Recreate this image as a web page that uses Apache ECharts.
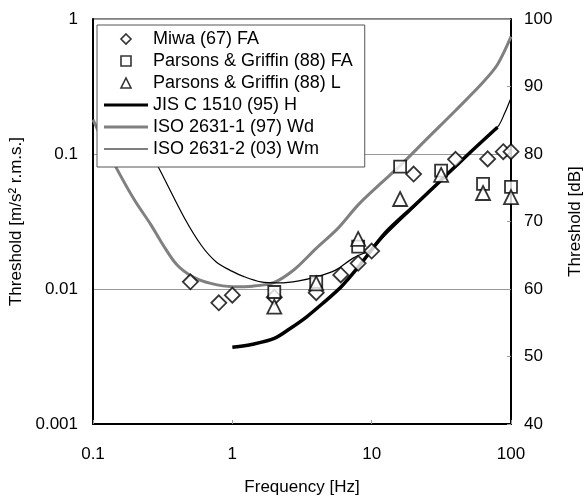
<!DOCTYPE html>
<html>
<head>
<meta charset="utf-8">
<script src="https://cdn.jsdelivr.net/npm/echarts@6/dist/echarts.min.js"></script>
<style>
html,body{margin:0;padding:0;background:#fff;}
#chart{width:584px;height:497px;}
</style>
</head>
<body>
<div id="chart"></div>
<script>
// ---- data (frequency Hz, threshold m/s^2 r.m.s.) ----
const miwaFA = [[0.5,0.0113],[0.8,0.0079],[1,0.009],[2,0.0087],[4,0.0094],[6,0.0127],[8,0.0155],[10,0.0191],[20,0.071],[40,0.0914],[68,0.092],[88,0.104],[100,0.104]];
const pgFA = [[2,0.0095],[4,0.0113],[8,0.0206],[16,0.0805],[31.5,0.0752],[63,0.060],[100,0.057]];
const pgL = [[2,0.0074],[4,0.011],[8,0.0235],[16,0.0464],[31.5,0.070],[63,0.0514],[100,0.048]];
const jisH = [[1,0.0037],[1.4,0.0039],[2,0.0043],[2.6,0.0051],[3.4,0.0062],[4.5,0.0079],[6,0.0103],[8,0.0145],[12.5,0.026],[20,0.041],[31.5,0.064],[50,0.101],[80,0.158]];
const isoWd = [[0.1,0.18],[0.12,0.12],[0.15,0.076],[0.2,0.045],[0.26,0.03],[0.32,0.021],[0.4,0.0151],[0.52,0.0123],[0.7,0.011],[1,0.0104],[1.4,0.0105],[2,0.0112],[2.8,0.014],[4,0.02],[5.7,0.028],[8,0.042],[11.5,0.06],[16,0.082],[25,0.13],[40,0.21],[63,0.34],[80,0.46],[100,0.74]];
const isoWm = [[0.13,0.42],[0.16,0.27],[0.2,0.17],[0.3,0.077],[0.45,0.034],[0.6,0.021],[0.77,0.0158],[1,0.0135],[1.2,0.0124],[1.6,0.0113],[2.2,0.0111],[3,0.0115],[4,0.0123],[5.5,0.0138],[7.4,0.017],[10,0.0197],[12.5,0.025],[20,0.04],[31.5,0.063],[50,0.1],[80,0.158],[90,0.2],[100,0.26]];
const seriesNames = ['Miwa (67) FA','Parsons & Griffin (88) FA','Parsons & Griffin (88) L','JIS C 1510 (95) H','ISO 2631-1 (97) Wd','ISO 2631-2 (03) Wm'];
const xTickLabels = ['0.1','1','10','100'];
const yTickLabels = ['0.001','0.01','0.1','1'];
const dbMin = 40, dbMax = 100, dbStep = 10;

const FONT = 'Liberation Sans';
const fmt = v => String(Number(v.toPrecision(3)));

const chart = echarts.init(document.getElementById('chart'), null, {renderer:'canvas'});
const scatterStyle = {color:'#fff', borderColor:'#000', borderWidth:1.8};
const legendMarker = {color:'#fff', borderColor:'#000', borderWidth:1.6};
chart.setOption({
  animation:false,
  backgroundColor:'#fff',
  textStyle:{fontFamily:FONT},
  grid:{left:93, right:73, top:19, bottom:73, containLabel:false, outerBoundsMode:'none', show:true, borderColor:'#000', borderWidth:1, backgroundColor:'transparent'},
  legend:{
    orient:'vertical', left:97, top:25,
    padding:[4,12,8,7],
    itemWidth:44, itemHeight:10, itemGap:2,
    symbolKeepAspect:true,
    backgroundColor:'#fff', borderColor:'#555', borderWidth:1,
    textStyle:{fontFamily:FONT, fontSize:18, color:'#000', lineHeight:20},
    data:[
      {name:seriesNames[0], icon:'path://M5,0L10,5L5,10L0,5Z', itemStyle:legendMarker},
      {name:seriesNames[1], icon:'path://M0,0H10V10H0Z', itemStyle:legendMarker},
      {name:seriesNames[2], icon:'path://M5,0L10,10H0Z', itemStyle:legendMarker},
      {name:seriesNames[3], icon:'path://M0,0H44V3H0Z', itemStyle:{color:'#000', borderWidth:0}},
      {name:seriesNames[4], icon:'path://M0,0H44V3H0Z', itemStyle:{color:'#808080', borderWidth:0}},
      {name:seriesNames[5], icon:'path://M0,0H44V1.2H0Z', itemStyle:{color:'#000', borderWidth:0}}
    ]
  },
  xAxis:{
    type:'log', logBase:10, min:0.1, max:100,
    axisLine:{lineStyle:{color:'#000', width:2}},
    axisTick:{inside:true, length:4, lineStyle:{color:'#999'}},
    axisLabel:{fontFamily:FONT, fontSize:17, color:'#000', margin:22, formatter: v => xTickLabels.find(t => Math.abs(Number(t)-v) < v*1e-6) || fmt(v)},
    splitLine:{show:false},
    name:'Frequency [Hz]', nameLocation:'middle', nameGap:55,
    nameTextStyle:{fontFamily:FONT, fontSize:17, color:'#000'}
  },
  yAxis:[{
    type:'log', logBase:10, min:0.001, max:1,
    axisLine:{show:true, lineStyle:{color:'#000', width:2}},
    axisTick:{show:false},
    axisLabel:{fontFamily:FONT, fontSize:17, color:'#000', margin:15, formatter: v => yTickLabels.find(t => Math.abs(Number(t)-v) < v*1e-6) || fmt(v)},
    splitLine:{show:true, lineStyle:{color:'#999', width:1}},
    name:'Threshold [m/s² r.m.s.]', nameLocation:'middle', nameGap:56, nameRotate:90,
    nameTextStyle:{fontFamily:FONT, fontSize:17, color:'#000'}
  },{
    type:'value', min:dbMin, max:dbMax, interval:dbStep, position:'right',
    axisLine:{show:true, lineStyle:{color:'#000', width:2}},
    axisTick:{show:true, inside:true, length:4, lineStyle:{color:'#999'}},
    axisLabel:{fontFamily:FONT, fontSize:17, color:'#000', margin:13},
    splitLine:{show:false},
    name:'Threshold [dB]', nameLocation:'middle', nameGap:56, nameRotate:90,
    nameTextStyle:{fontFamily:FONT, fontSize:17, color:'#000'}
  }],
  series:[
    {name:seriesNames[0], type:'scatter', data:miwaFA, symbol:'diamond', symbolSize:15, itemStyle:scatterStyle, z:5},
    {name:seriesNames[1], type:'scatter', data:pgFA, symbol:'rect', symbolSize:12, itemStyle:scatterStyle, z:5},
    {name:seriesNames[2], type:'scatter', data:pgL, symbol:'triangle', symbolSize:14, itemStyle:scatterStyle, z:5},
    {name:seriesNames[3], type:'line', data:jisH, symbol:'none', smooth:0.3, lineStyle:{color:'#000', width:3.5}, itemStyle:{color:'#000'}, z:3},
    {name:seriesNames[4], type:'line', data:isoWd, symbol:'none', smooth:0.3, lineStyle:{color:'#808080', width:3}, itemStyle:{color:'#808080'}, z:3},
    {name:seriesNames[5], type:'line', data:isoWm, symbol:'none', smooth:0.3, lineStyle:{color:'#000', width:1.2}, itemStyle:{color:'#000'}, z:3}
  ]
});
</script>
</body>
</html>
